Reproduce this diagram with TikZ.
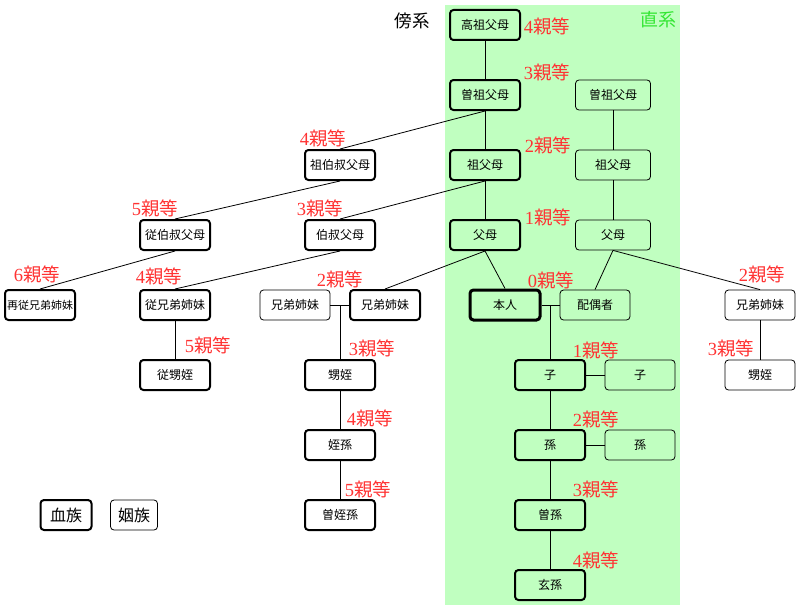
\documentclass[tikz,border=0pt]{standalone}
\usepackage{fontspec}
\setmainfont{Noto Sans CJK JP}
\newfontfamily\serifdigit{Liberation Serif}
\definecolor{bggreen}{RGB}{192,255,192}
\definecolor{kred}{RGB}{255,51,51}
\definecolor{kgreen}{RGB}{51,230,51}
\newcommand{\kt}[1]{{\serifdigit #1}親等}
\tikzset{
  bx/.style={draw, rounded corners=3.5pt, minimum width=70pt, minimum height=30pt, inner sep=0pt, font=\fontsize{12}{12}\selectfont, line width=0.8pt},
  blood/.style={bx, line width=2pt},
  selfbox/.style={bx, line width=3pt},
  lbl/.style={text=kred, font=\fontsize{18.5}{18.5}\selectfont, inner sep=0pt},
  conn/.style={line width=0.8pt}
}
\begin{document}
\begin{tikzpicture}[x=1pt, y=-1pt]
\useasboundingbox (0,0) rectangle (800,610);
\fill[bggreen] (445,5) rectangle (680,605);
% nodes
\node[blood] (kouso) at (485,25) {高祖父母};
\node[blood] (soso) at (485,95) {曽祖父母};
\node[bx, minimum width=75pt] (soso2) at (613,95) {曽祖父母};
\node[blood] (soha) at (340,165) {祖伯叔父母};
\node[blood] (sofu) at (485,165) {祖父母};
\node[bx, minimum width=75pt] (sofu2) at (613,165) {祖父母};
\node[blood] (ijuso) at (175,235) {従伯叔父母};
\node[blood] (oji) at (340,235) {伯叔父母};
\node[blood] (fubo) at (485,235) {父母};
\node[bx, minimum width=75pt] (fubo2) at (613,235) {父母};
\node[blood, font=\fontsize{11}{11}\selectfont] (saiitoko) at (40,305) {再従兄弟姉妹};
\node[blood] (itoko) at (175,305) {従兄弟姉妹};
\node[bx] (kyodai1) at (295,305) {兄弟姉妹};
\node[blood] (kyodai) at (385,305) {兄弟姉妹};
\node[selfbox] (honnin) at (505,305) {本人};
\node[bx] (haigu) at (595,305) {配偶者};
\node[bx] (kyodai2) at (760,305) {兄弟姉妹};
\node[blood] (juoi) at (175,375) {従甥姪};
\node[blood] (oi) at (340,375) {甥姪};
\node[blood] (tetsuson) at (340,445) {姪孫};
\node[blood] (sotetsu) at (340,515) {曽姪孫};
\node[blood] (ko) at (550,375) {子};
\node[bx] (ko2) at (640,375) {子};
\node[blood] (mago) at (550,445) {孫};
\node[bx] (mago2) at (640,445) {孫};
\node[blood] (himago) at (550,515) {曽孫};
\node[blood] (genson) at (550,585) {玄孫};
\node[bx] (oi2) at (760,375) {甥姪};
% legend
\node[blood, minimum width=51pt, font=\fontsize{16}{16}\selectfont] (ketsu) at (66,515) {血族};
\node[bx, minimum width=47pt, font=\fontsize{16}{16}\selectfont] (in) at (134,515) {姻族};
% headings
\node[font=\fontsize{17.5}{17.5}\selectfont, inner sep=0pt] (bokei) at (412,21) {傍系};
\node[font=\fontsize{18}{18}\selectfont, inner sep=0pt, text=kgreen] (chokkei) at (658,20) {直系};
% connectors
\draw[conn] (kouso.south) -- (soso.north);
\draw[conn] (soso.south) -- (sofu.north);
\draw[conn] (soso.south) -- (soha.north);
\draw[conn] (soha.south) -- (ijuso.north);
\draw[conn] (ijuso.south) -- (saiitoko.north);
\draw[conn] (sofu.south) -- (oji.north);
\draw[conn] (sofu.south) -- (fubo.north);
\draw[conn] (oji.south) -- (itoko.north);
\draw[conn] (itoko.south) -- (juoi.north);
\draw[conn] (fubo.south) -- (kyodai.north);
\draw[conn] (fubo.south) -- (honnin.north);
\draw[conn] (soso2.south) -- (sofu2.north);
\draw[conn] (sofu2.south) -- (fubo2.north);
\draw[conn] (fubo2.south) -- (haigu.north);
\draw[conn] (fubo2.south) -- (kyodai2.north);
\draw[conn] (kyodai2.south) -- (oi2.north);
\draw[conn] (kyodai1.east) -- (kyodai.west);
\draw[conn] (oi.north |- kyodai.west) -- (oi.north);
\draw[conn] (oi.south) -- (tetsuson.north);
\draw[conn] (tetsuson.south) -- (sotetsu.north);
\draw[conn] (honnin.east) -- (haigu.west);
\draw[conn] (ko.north |- honnin.east) -- (ko.north);
\draw[conn] (ko.east) -- (ko2.west);
\draw[conn] (ko.south) -- (mago.north);
\draw[conn] (mago.east) -- (mago2.west);
\draw[conn] (mago.south) -- (himago.north);
\draw[conn] (himago.south) -- (genson.north);
% degree labels
\node[lbl] (d1) at (547,26) {\kt{4}};
\node[lbl] (d2) at (547,72) {\kt{3}};
\node[lbl] (d3) at (548,145) {\kt{2}};
\node[lbl] (d4) at (548,217) {\kt{1}};
\node[lbl] (d5) at (551,280) {\kt{0}};
\node[lbl] (d6) at (323,138) {\kt{4}};
\node[lbl] (d7) at (155,208) {\kt{5}};
\node[lbl] (d8) at (320,208) {\kt{3}};
\node[lbl] (d9) at (37,274) {\kt{6}};
\node[lbl] (d10) at (159,276) {\kt{4}};
\node[lbl] (d11) at (340,279) {\kt{2}};
\node[lbl] (d12) at (762,274) {\kt{2}};
\node[lbl] (d13) at (208,345) {\kt{5}};
\node[lbl] (d14) at (372,348) {\kt{3}};
\node[lbl] (d15) at (370,418) {\kt{4}};
\node[lbl] (d16) at (368,489) {\kt{5}};
\node[lbl] (d17) at (596,350) {\kt{1}};
\node[lbl] (d18) at (596,419) {\kt{2}};
\node[lbl] (d19) at (596,489) {\kt{3}};
\node[lbl] (d20) at (596,560) {\kt{4}};
\node[lbl] (d21) at (731,348) {\kt{3}};
\end{tikzpicture}
\end{document}
